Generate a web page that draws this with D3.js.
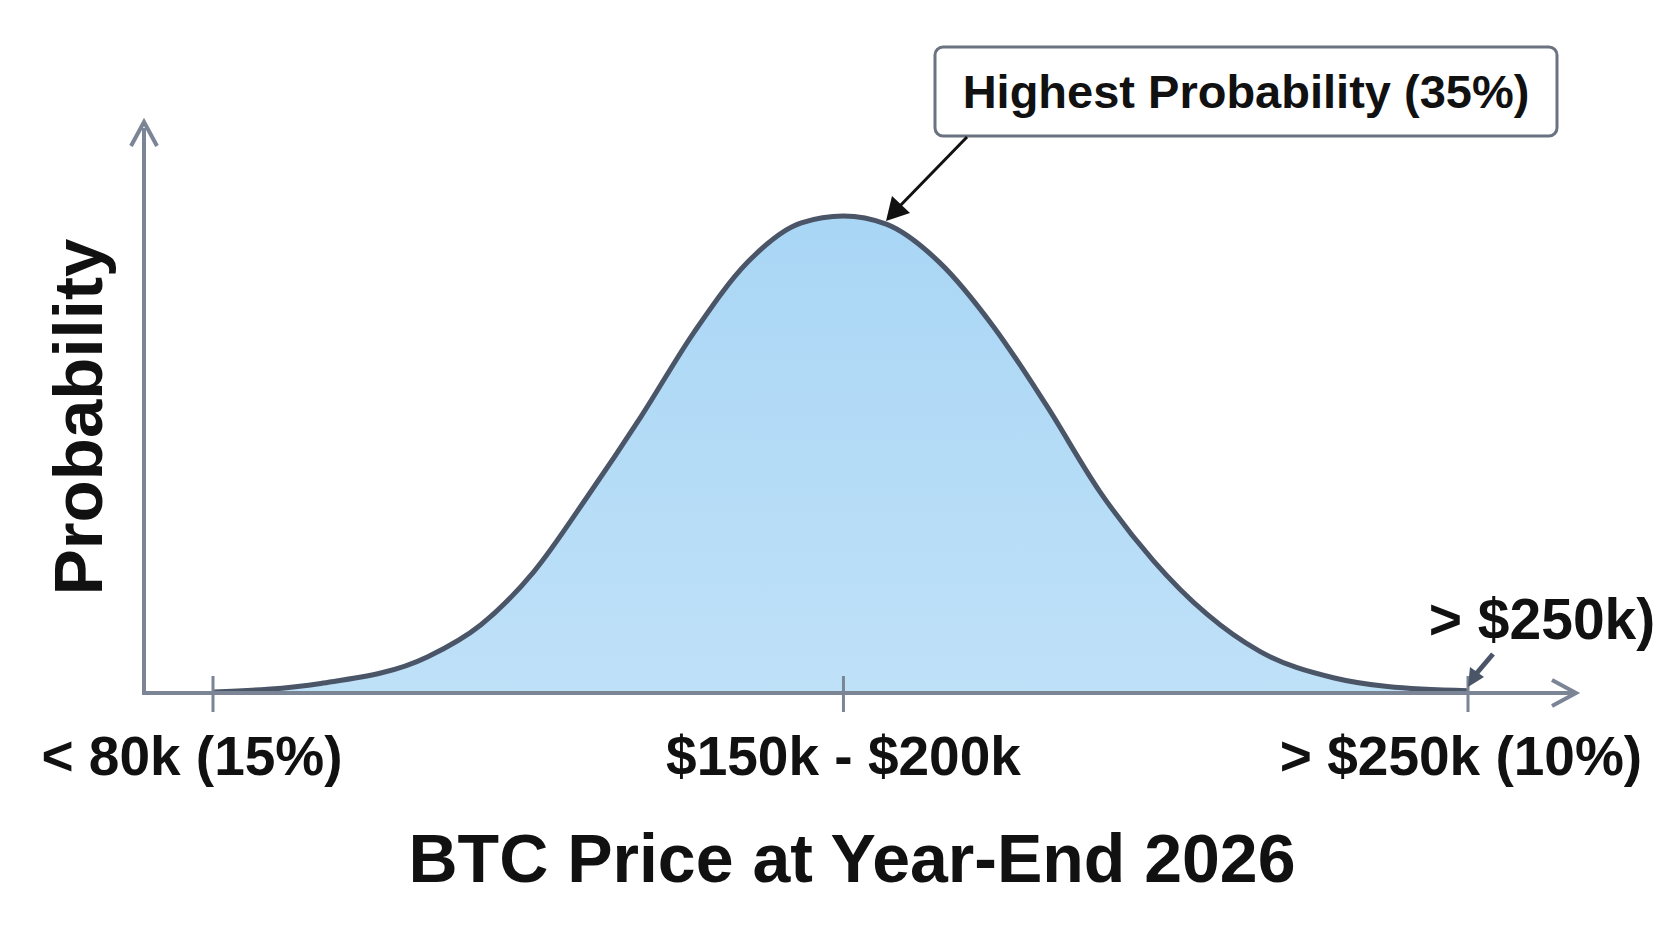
<!DOCTYPE html><html><head><meta charset="utf-8">
<script src="https://cdn.jsdelivr.net/npm/d3@7"></script>
<style>body{margin:0;background:#fff}text{font-family:"Liberation Sans",Arial,sans-serif;font-weight:bold;fill:#111}</style>
</head><body><svg id="c" width="1666" height="937"></svg><script>
const prices=[80.1,94.6,109.1,116.3,123.5,130.7,138.0,145.2,152.4,159.7,165.4,171.2,178.4,185.7,192.9,200.1,207.4,214.6,221.8,231.9,239.1,250];
const probs=[0.08,0.7,2.66,5.01,8.93,14.4,20.3,26.5,31.6,34.5,35,34.4,31.6,26.9,21.1,14.8,9.7,5.8,3.05,1.1,0.47,0.16];
const tickValues=[80,165.4,250];
const tickLabels=["< 80k (15%)","$150k - $200k","> $250k (10%)"];
const svg=d3.select("#c");
const x=d3.scaleLinear().domain([80,250]).range([213,1468]);
const y=d3.scaleLinear().domain([0,35]).range([693,216]);
const defs=svg.append("defs");
const g=defs.append("linearGradient").attr("id","gf").attr("x1",0).attr("x2",0).attr("y1",0).attr("y2",1);
g.append("stop").attr("offset","0").attr("stop-color","#a9d6f5");
g.append("stop").attr("offset","1").attr("stop-color","#bfe1f8");
const data=prices.map((p,i)=>[p,probs[i]]);
svg.append("path").datum(data).attr("fill","url(#gf)")
 .attr("d",d3.area().x(d=>x(d[0])).y0(y(0)).y1(d=>y(d[1])).curve(d3.curveMonotoneX));
svg.append("path").datum(data).attr("fill","none").attr("stroke","#4a5568").attr("stroke-width",5)
 .attr("d",d3.line().x(d=>x(d[0])).y(d=>y(d[1])).curve(d3.curveMonotoneX));
const ac="#7b8595";
svg.append("line").attr("x1",144).attr("y1",693).attr("x2",144).attr("y2",128).attr("stroke",ac).attr("stroke-width",4);
svg.append("path").attr("d","M131,146 L144,122 L157,146").attr("fill","none").attr("stroke",ac).attr("stroke-width",4);
svg.append("line").attr("x1",142).attr("y1",693).attr("x2",1572).attr("y2",693).attr("stroke",ac).attr("stroke-width",4);
svg.append("path").attr("d","M1552,680 L1576,693 L1552,706").attr("fill","none").attr("stroke",ac).attr("stroke-width",4);
tickValues.forEach((t,i)=>{
 svg.append("line").attr("x1",x(t)).attr("x2",x(t)).attr("y1",676).attr("y2",712).attr("stroke",ac).attr("stroke-width",3);
 svg.append("text").attr("x",i==0?192:(i==2?1461:x(t))).attr("y",775).attr("text-anchor","middle").attr("font-size",55).text(tickLabels[i]);
});
svg.append("text").attr("x",852).attr("y",882).attr("text-anchor","middle").attr("font-size",68).text("BTC Price at Year-End 2026");
svg.append("text").attr("transform","translate(102,417) rotate(-90)").attr("text-anchor","middle").attr("font-size",69).text("Probability");
svg.append("rect").attr("x",935).attr("y",47).attr("width",622).attr("height",89).attr("rx",8).attr("fill","#fff").attr("stroke","#6b7280").attr("stroke-width",3);
svg.append("text").attr("x",1246).attr("y",108).attr("text-anchor","middle").attr("font-size",47).text("Highest Probability (35%)");
svg.append("line").attr("x1",967).attr("y1",137).attr("x2",896).attr("y2",210).attr("stroke","#111").attr("stroke-width",3);
svg.append("path").attr("d","M886,221 L892,196 L910,213 Z").attr("fill","#111");
svg.append("text").attr("x",1542).attr("y",639).attr("text-anchor","middle").attr("font-size",57).text("> $250k)");
svg.append("line").attr("x1",1493).attr("y1",654).attr("x2",1476).attr("y2",674).attr("stroke","#4a5568").attr("stroke-width",5);
svg.append("path").attr("d","M1468,687 L1470,667 L1484,677 Z").attr("fill","#4a5568");
</script></body></html>
